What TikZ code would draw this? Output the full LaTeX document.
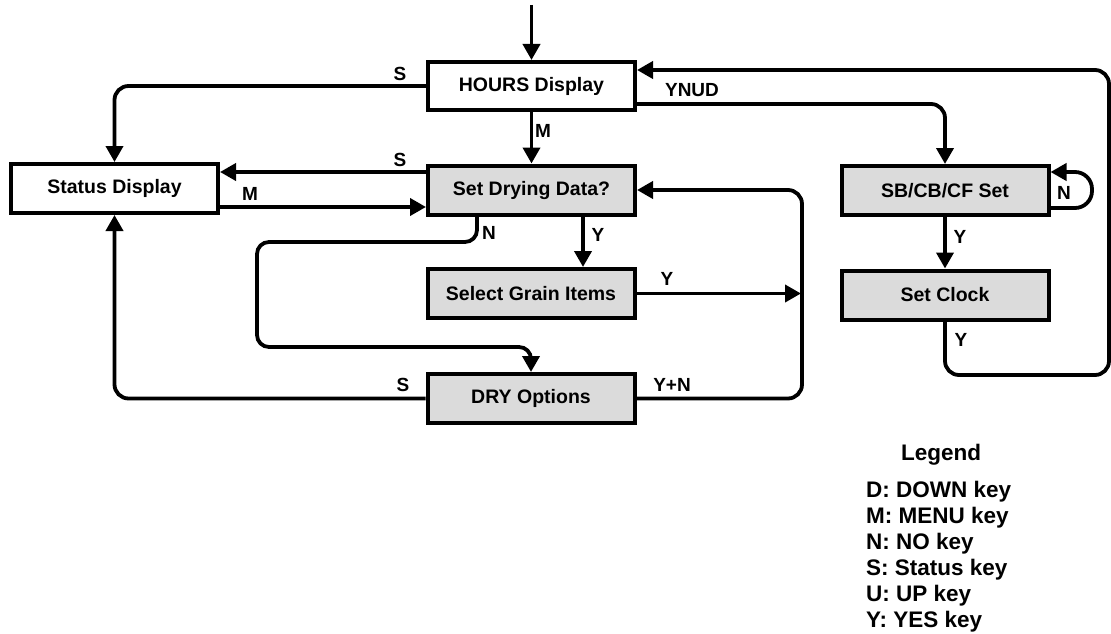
\documentclass[tikz,border=0pt]{standalone}
\usepackage{fontspec}
\setmainfont{Liberation Sans}
\usetikzlibrary{arrows.meta}
\begin{document}
\begin{tikzpicture}[x=1pt,y=-1pt,
  box/.style={draw, line width=4pt, minimum width=207pt, minimum height=49pt, inner sep=0pt, font=\fontsize{19.5}{22}\selectfont\bfseries},
  shaded/.style={box, fill=black!14},
  arr/.style={line width=3.8pt, -{Triangle[length=16pt,width=17pt]}},
  lbl/.style={font=\fontsize{19}{21}\selectfont\bfseries, inner sep=0pt},
  leg/.style={font=\fontsize{22.5}{24}\selectfont\bfseries, inner sep=0pt, anchor=west}]
\useasboundingbox (0,0) rectangle (1111,634);

% boxes
\node[box, minimum height=48pt] (hours) at (531.5,86) {HOURS Display};
\node[box] (status) at (114.5,188.5) {Status Display};
\node[shaded] (setdry) at (531.5,190) {Set Drying Data?};
\node[shaded] (grain) at (531,293.5) {Select Grain Items};
\node[shaded] (dry) at (531,398.5) {DRY Options};
\node[shaded] (sb) at (945,190.5) {SB/CB/CF Set};
\node[shaded] (clock) at (945,295) {Set Clock};

% helper coordinates
\coordinate (start) at (531.5,5);
\coordinate (sA) at ([yshift=18pt]setdry.west);
\coordinate (mA) at ([yshift=-17pt]setdry.west);
\coordinate (n0) at ([xshift=-54.5pt]setdry.south);
\coordinate (n1) at (257,242);
\coordinate (n2) at (257,347);
\coordinate (y0) at ([xshift=51.5pt]setdry.south);
\coordinate (vr) at (802,190);
\coordinate (yn) at ([yshift=-18pt]hours.east);
\coordinate (lo) at ([yshift=-17.5pt]sb.east);
\coordinate (li) at ([yshift=18.5pt]sb.east);
\coordinate (l1) at (1092,208);
\coordinate (l2) at (1092,172);
\coordinate (r1) at (1109,375);
\coordinate (r2) at (1109,70);
\coordinate (hy) at ([yshift=16pt]hours.east);

% connectors
\draw[arr] (start) -- (hours.north);
\draw[arr, rounded corners=14pt] (hours.west) -| (status.north);
\draw[arr] (hours.south) -- (setdry.north);
\draw[arr] (sA) -- (sA -| status.east);
\draw[arr] (mA -| status.east) -- (mA);
\draw[arr, rounded corners=12pt] (n0) |- (n1) -- (n2) -| (dry.north);
\draw[arr] (y0) -- (y0 |- grain.north);
\draw[arr] (grain.east) -- ([xshift=-1pt]grain.east -| vr);
\draw[arr, rounded corners=14pt] (dry.east) -| (vr) -- (setdry.east);
\draw[arr, rounded corners=14pt] (dry.west) -| (status.south);
\draw[arr, rounded corners=14pt] (yn) -| (sb.north);
\draw[arr, rounded corners=17pt] (lo) -- (l1) -- (l2) -- (li);
\draw[arr] (sb.south) -- (clock.north);
\draw[arr, rounded corners=14pt] (clock.south) |- (r1) -- (r2) -- (hy);

% connector labels
\node[lbl] (tS1) at (400,74) {S};
\node[lbl] (tM1) at (543,131) {M};
\node[lbl] (tS2) at (400,160) {S};
\node[lbl] (tM2) at (250,194) {M};
\node[lbl] (tN1) at (489,233) {N};
\node[lbl] (tY1) at (598,235) {Y};
\node[lbl] (tY2) at (667,279) {Y};
\node[lbl] (tS3) at (403,385) {S};
\node[lbl] (tYN) at (672,385) {Y+N};
\node[lbl] (tYNUD) at (692,90) {YNUD};
\node[lbl] (tN2) at (1064,193) {N};
\node[lbl] (tY3) at (960,237) {Y};
\node[lbl] (tY4) at (961,340) {Y};

% legend
\node[font=\fontsize{22.5}{24}\selectfont\bfseries, inner sep=0pt] (legt) at (941,455) {Legend};
\node[leg] (lg1) at (866,492) {D: DOWN key};
\node[leg] (lg2) at (866,518) {M: MENU key};
\node[leg] (lg3) at (866,544) {N: NO key};
\node[leg] (lg4) at (866,570) {S: Status key};
\node[leg] (lg5) at (866,596) {U: UP key};
\node[leg] (lg6) at (866,622) {Y: YES key};
\end{tikzpicture}
\end{document}
